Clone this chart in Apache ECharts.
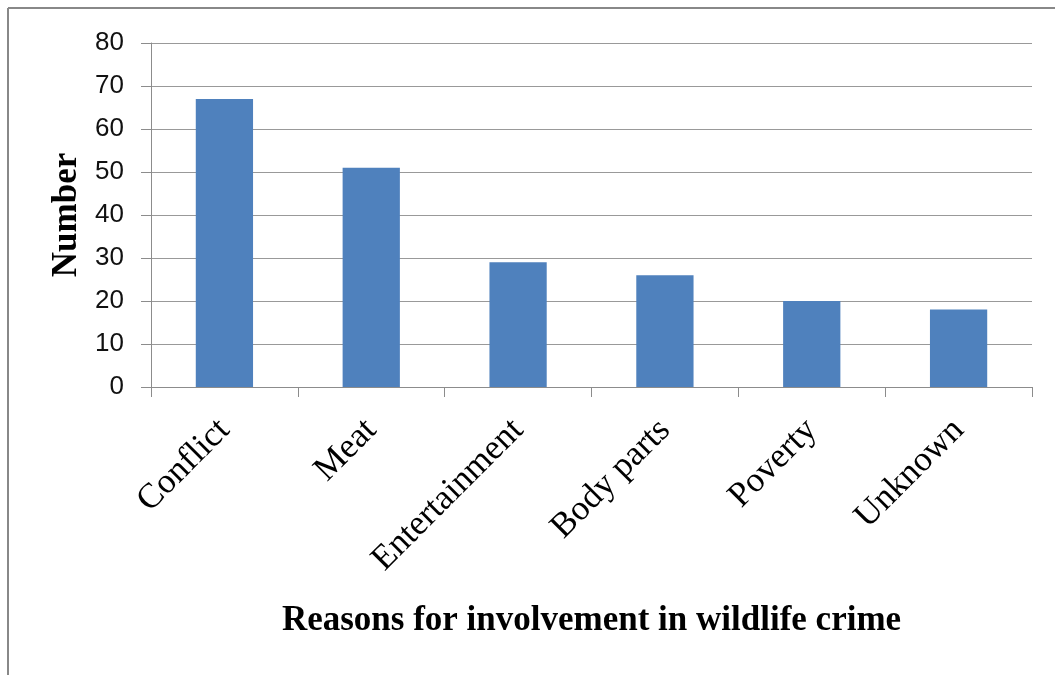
<!DOCTYPE html>
<html>
<head>
<meta charset="utf-8">
<script src="https://cdn.jsdelivr.net/npm/echarts@6/dist/echarts.min.js"></script>
<style>
  html, body { margin: 0; padding: 0; background: #fff; }
  #chart { width: 1055px; height: 675px; }
</style>
</head>
<body>
<div id="chart"></div>
<script>
// Reasons for involvement in wildlife crime
const categories = ['Conflict', 'Meat', 'Entertainment', 'Body parts', 'Poverty', 'Unknown'];
const counts = [67, 51, 29, 26, 20, 18];
const yTicks = { min: 0, max: 80, interval: 10 };

const chart = echarts.init(document.getElementById('chart'), null, { renderer: 'canvas' });
const gray = '#8c8c8c';
const serif = '"Liberation Serif", "Times New Roman", serif';

chart.setOption({
  animation: false,
  backgroundColor: '#fff',
  graphic: [
    { type: 'line', shape: { x1: 8, y1: 8, x2: 8, y2: 675 }, style: { stroke: '#888', lineWidth: 2 } },
    { type: 'line', shape: { x1: 8, y1: 8, x2: 1055, y2: 8 }, style: { stroke: '#888', lineWidth: 2 } }
  ],
  grid: { left: 151, right: 23, top: 43, bottom: 288 },
  xAxis: {
    type: 'category',
    data: categories,
    name: 'Reasons for involvement in wildlife crime',
    nameLocation: 'middle',
    nameGap: 216,
    nameTextStyle: { fontFamily: serif, fontWeight: 'bold', fontSize: 35, color: '#000' },
    axisLine: { show: true, lineStyle: { color: gray, width: 1 } },
    axisTick: { show: true, length: 10, alignWithLabel: false, lineStyle: { color: gray } },
    axisLabel: { rotate: 45, margin: 38, fontFamily: serif, fontSize: 35, color: '#000', interval: 0 }
  },
  yAxis: {
    type: 'value',
    min: yTicks.min,
    max: yTicks.max,
    interval: yTicks.interval,
    name: 'Number',
    nameLocation: 'middle',
    nameGap: 67,
    nameRotate: 90,
    nameTextStyle: { fontFamily: serif, fontWeight: 'bold', fontSize: 35, color: '#000' },
    axisLine: { show: true, lineStyle: { color: gray, width: 1 } },
    axisTick: { show: true, length: 10, lineStyle: { color: gray } },
    axisLabel: { margin: 27, fontFamily: '"Liberation Sans", Arial, sans-serif', fontSize: 26, color: '#111' },
    splitLine: { show: true, lineStyle: { color: '#999', width: 1.2 } }
  },
  series: [{
    type: 'bar',
    data: counts,
    barWidth: '39%',
    itemStyle: { color: '#4f81bd' }
  }]
});
</script>
</body>
</html>
